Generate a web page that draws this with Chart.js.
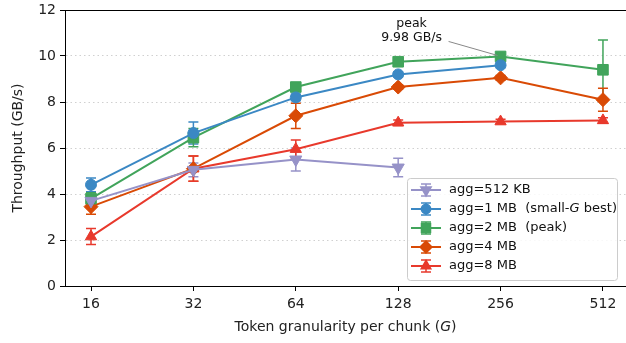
<!DOCTYPE html>
<html>
<head>
<meta charset="utf-8">
<script src="https://cdn.jsdelivr.net/npm/chart.js@4.4.0/dist/chart.umd.min.js"></script>
<style>
  html, body { margin: 0; padding: 0; background: #fff; }
  #wrap { width: 626px; height: 343px; }
</style>
</head>
<body>
<div id="wrap"><canvas id="chart" width="626" height="343"></canvas></div>
<script>
// Token granularity (x axis, log2 spaced)
const granularity = [16, 32, 64, 128, 256, 512];
const yTicks = [0, 2, 4, 6, 8, 10, 12];

// Throughput (GB/s) per aggregation size, with error half-widths
const agg512KB = [3.7, 5.05, 5.5, 5.15, null, null];
const err512KB = [0.2, 0.3, 0.5, 0.4, null, null];
const agg1MB = [4.4, 6.65, 8.2, 9.2, 9.6, null];
const err1MB = [0.3, 0.48, 0.15, 0.1, 0.1, null];
const agg2MB = [3.8, 6.45, 8.65, 9.75, 9.98, 9.4];
const err2MB = [0.25, 0.4, 0.15, 0.1, 0.1, 1.3];
const agg4MB = [3.45, 5.1, 7.4, 8.65, 9.05, 8.1];
const err4MB = [0.33, 0.55, 0.55, 0.1, 0.1, 0.5];
const agg8MB = [2.15, 5.1, 5.95, 7.1, 7.15, 7.2];
const err8MB = [0.35, 0.55, 0.4, 0.12, 0.1, 0.12];

const peakG = 256;
const peakValue = 9.98;

const FONT = 'DejaVu Sans';

function toPoints(values) {
    return granularity.map((g, i) => ({ x: Math.log2(g), y: values[i] }))
        .filter(p => p.y !== null);
}

function series(label, values, errors, color, pointStyle, rotation, radius) {
    return {
        label: label,
        data: toPoints(values),
        errors: errors.filter(e => e !== null),
        borderColor: color,
        backgroundColor: color,
        pointBackgroundColor: color,
        pointBorderColor: color,
        pointStyle: pointStyle,
        rotation: rotation,
        pointRadius: radius,
        pointBorderWidth: 1,
        borderWidth: 2,
        tension: 0,
    };
}

const datasets = [
    series('agg=512 KB', agg512KB, err512KB, '#9692c8', 'triangle', 180, 7),
    series('agg=1 MB', agg1MB, err1MB, '#3b88c4', 'circle', 0, 5.5),
    series('agg=2 MB', agg2MB, err2MB, '#41a45b', 'rect', 0, 7.5),
    series('agg=4 MB', agg4MB, err4MB, '#d94a05', 'rectRot', 0, 7),
    series('agg=8 MB', agg8MB, err8MB, '#e8392c', 'triangle', 0, 6.5),
];

// Legend labels: [plain part, italic part, trailing part]
const legendText = [
    ['agg=512 KB', '', ''],
    ['agg=1 MB  (small-', 'G', ' best)'],
    ['agg=2 MB  (peak)', '', ''],
    ['agg=4 MB', '', ''],
    ['agg=8 MB', '', ''],
];

// error bars drawn under the markers
const errorBars = {
    id: 'errorBars',
    beforeDatasetsDraw(chart) {
        const ctx = chart.ctx;
        const xs = chart.scales.x, ys = chart.scales.y;
        chart.data.datasets.forEach(ds => {
            ctx.save();
            ctx.strokeStyle = ds.borderColor;
            ctx.lineWidth = 1.5;
            ds.data.forEach((p, i) => {
                const e = ds.errors[i];
                if (!e) return;
                const px = xs.getPixelForValue(p.x);
                const top = ys.getPixelForValue(p.y + e);
                const bot = ys.getPixelForValue(p.y - e);
                ctx.beginPath();
                ctx.moveTo(px, top); ctx.lineTo(px, bot);
                ctx.moveTo(px - 5, top); ctx.lineTo(px + 5, top);
                ctx.moveTo(px - 5, bot); ctx.lineTo(px + 5, bot);
                ctx.stroke();
            });
            ctx.restore();
        });
    },
};

// frame, x title, peak note and legend box
const decorations = {
    id: 'decorations',
    afterDraw(chart) {
        const ctx = chart.ctx;
        const a = chart.chartArea;
        const xs = chart.scales.x, ys = chart.scales.y;
        ctx.save();

        // right spine falls just outside the picture, as in the original crop
        ctx.strokeStyle = '#000';
        ctx.lineWidth = 1;
        ctx.strokeRect(a.left + 0.5, a.top + 0.5, a.right - a.left + 1, a.bottom - a.top);

        // x title with italic G
        ctx.fillStyle = '#222';
        ctx.textBaseline = 'middle';
        const t1 = 'Token granularity per chunk (', t2 = 'G', t3 = ')';
        ctx.font = '14px ' + FONT;
        const w1 = ctx.measureText(t1).width, w3 = ctx.measureText(t3).width;
        ctx.font = 'italic 14px ' + FONT;
        const w2 = ctx.measureText(t2).width;
        const tx = (a.left + a.right) / 2 - (w1 + w2 + w3) / 2;
        const ty = 327;
        ctx.textAlign = 'left';
        ctx.font = '14px ' + FONT;
        ctx.fillText(t1, tx, ty);
        ctx.font = 'italic 14px ' + FONT;
        ctx.fillText(t2, tx + w1, ty);
        ctx.font = '14px ' + FONT;
        ctx.fillText(t3, tx + w1 + w2, ty);

        // peak annotation
        const px = xs.getPixelForValue(Math.log2(peakG));
        const py = ys.getPixelForValue(peakValue);
        const nx = px - 89, ny = py - 26;
        ctx.font = '12.5px ' + FONT;
        ctx.textAlign = 'center';
        ctx.fillStyle = '#111';
        ctx.fillText('peak', nx, ny - 7);
        ctx.fillText(peakValue.toFixed(2) + ' GB/s', nx, ny + 7);
        ctx.strokeStyle = '#888';
        ctx.lineWidth = 1;
        ctx.beginPath();
        ctx.moveTo(nx + 37, ny + 11);
        ctx.lineTo(px - 3, py - 1);
        ctx.stroke();

        // legend
        const lx = 407, ly = 178, lw = 210, lh = 102;
        ctx.fillStyle = 'rgba(255,255,255,0.85)';
        ctx.strokeStyle = '#cccccc';
        ctx.lineWidth = 1;
        ctx.beginPath();
        ctx.roundRect(lx + 0.5, ly + 0.5, lw, lh, 3);
        ctx.fill();
        ctx.stroke();
        chart.data.datasets.forEach((ds, i) => {
            const ry = ly + 12 + i * 19;
            ctx.strokeStyle = ds.borderColor;
            ctx.lineWidth = 2;
            ctx.beginPath();
            ctx.moveTo(lx + 4, ry); ctx.lineTo(lx + 34, ry);
            ctx.stroke();
            ctx.lineWidth = 1.5;
            ctx.beginPath();
            ctx.moveTo(lx + 19, ry - 6); ctx.lineTo(lx + 19, ry + 6);
            ctx.moveTo(lx + 14, ry - 6); ctx.lineTo(lx + 24, ry - 6);
            ctx.moveTo(lx + 14, ry + 6); ctx.lineTo(lx + 24, ry + 6);
            ctx.stroke();
            ctx.fillStyle = ds.backgroundColor;
            Chart.helpers.drawPoint(ctx, {
                pointStyle: ds.pointStyle, rotation: ds.rotation,
                radius: ds.pointRadius * 0.85, borderWidth: 1,
            }, lx + 19, ry);
            ctx.fillStyle = '#111';
            ctx.textAlign = 'left';
            const [p1, p2, p3] = legendText[i];
            let x = lx + 42;
            ctx.font = '13px ' + FONT;
            ctx.fillText(p1, x, ry);
            x += ctx.measureText(p1).width;
            if (p2) {
                ctx.font = 'italic 13px ' + FONT;
                ctx.fillText(p2, x, ry);
                x += ctx.measureText(p2).width;
                ctx.font = '13px ' + FONT;
                ctx.fillText(p3, x, ry);
            }
        });
        ctx.restore();
    },
};

new Chart(document.getElementById('chart'), {
    type: 'line',
    data: { datasets: datasets },
    plugins: [errorBars, decorations],
    options: {
        responsive: false,
        animation: false,
        layout: { autoPadding: false, padding: { top: 10, right: 0, left: 0, bottom: 0 } },
        plugins: {
            legend: { display: false },
            tooltip: { enabled: false },
        },
        scales: {
            x: {
                type: 'linear',
                min: Math.log2(granularity[0]) - 0.254,
                max: Math.log2(granularity[granularity.length - 1]) + 0.225,
                afterBuildTicks(scale) {
                    scale.ticks = granularity.map(g => ({ value: Math.log2(g) }));
                },
                afterFit(scale) {
                    scale.height = 57;
                    scale.paddingLeft = 0;
                    scale.paddingRight = 0;
                },
                ticks: {
                    color: '#222',
                    font: { family: FONT, size: 14 },
                    padding: 5,
                    maxRotation: 0,
                    callback: v => String(Math.round(Math.pow(2, v))),
                },
                grid: {
                    drawOnChartArea: false,
                    drawTicks: true,
                    tickLength: 5,
                    tickColor: '#000',
                    tickWidth: 1,
                },
                border: { display: true, color: '#000', width: 1 },
            },
            y: {
                min: 0,
                max: 12,
                afterBuildTicks(scale) {
                    scale.ticks = yTicks.map(v => ({ value: v }));
                },
                afterFit(scale) {
                    scale.width = 65;
                    scale.paddingTop = 0;
                    scale.paddingBottom = 0;
                },
                title: {
                    display: true,
                    text: 'Throughput (GB/s)',
                    color: '#222',
                    font: { family: FONT, size: 14 },
                    padding: { top: 10, bottom: 4 },
                },
                ticks: {
                    color: '#222',
                    font: { family: FONT, size: 14 },
                    padding: 4,
                },
                grid: {
                    color: '#d0d0d0',
                    lineWidth: 1,
                    tickLength: 5,
                    tickColor: '#000',
                    tickBorderDash: [],
                    tickWidth: 1,
                },
                border: { display: true, color: '#000', width: 1, dash: [1.5, 3] },
            },
        },
    },
});
</script>
</body>
</html>
